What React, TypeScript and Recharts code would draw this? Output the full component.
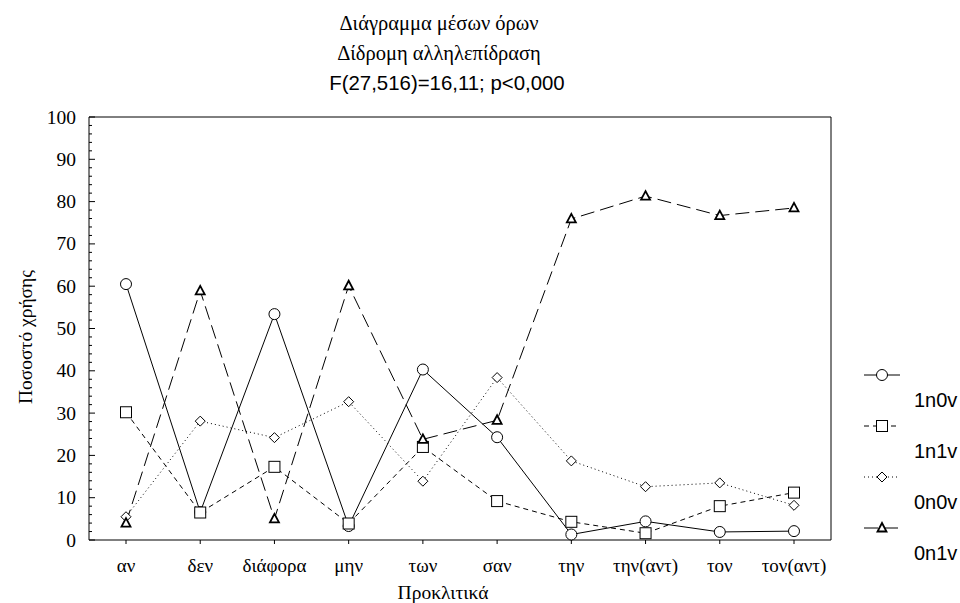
import React from 'react';
import { LineChart, Line, XAxis, YAxis, ReferenceLine } from 'recharts';

const categories = ['αν', 'δεν', 'διάφορα', 'μην', 'των', 'σαν', 'την', 'την(αντ)', 'τον', 'τον(αντ)'];
const s1n0v = [60.5, 6.6, 53.4, 3.3, 40.3, 24.3, 1.3, 4.4, 1.9, 2.1];
const s1n1v = [30.2, 6.5, 17.3, 3.9, 22.0, 9.2, 4.3, 1.6, 8.0, 11.2];
const s0n0v = [5.5, 28.1, 24.2, 32.7, 13.9, 38.4, 18.7, 12.6, 13.5, 8.2];
const s0n1v = [4.0, 58.9, 5.0, 60.1, 23.8, 28.3, 75.9, 81.3, 76.7, 78.5];
const yTicks = [0, 2, 4, 6, 8, 10, 12, 14, 16, 18, 20, 22, 24, 26, 28, 30, 32, 34, 36, 38, 40, 42, 44, 46, 48, 50, 52, 54, 56, 58, 60, 62, 64, 66, 68, 70, 72, 74, 76, 78, 80, 82, 84, 86, 88, 90, 92, 94, 96, 98, 100];
const titleLines = ['Διάγραμμα μέσων όρων', 'Δίδρομη αλληλεπίδραση', 'F(27,516)=16,11; p<0,000'];
const xTitle = 'Προκλιτικά';
const yTitle = 'Ποσοστό χρήσης';

const seriesDefs = [
  { key: '1n0v', values: s1n0v, shape: 'circle', dash: undefined as string | undefined },
  { key: '1n1v', values: s1n1v, shape: 'square', dash: '5 4' },
  { key: '0n0v', values: s0n0v, shape: 'diamond', dash: '1 3' },
  { key: '0n1v', values: s0n1v, shape: 'triangle', dash: '14 6' },
];

const data = categories.map((c, i) => {
  const row: any = { cat: c };
  seriesDefs.forEach((s) => { row[s.key] = s.values[i]; });
  return row;
});

const SERIF = 'Liberation Serif, DejaVu Serif, serif';
const SANS = 'Liberation Sans';

function Marker({ shape, cx, cy }: { shape: string; cx: number; cy: number }) {
  if (cx == null || cy == null) return null;
  if (shape === 'circle') return <circle cx={cx} cy={cy} r={5.5} fill="#fff" stroke="#000" strokeWidth={1} />;
  if (shape === 'square') return <rect x={cx - 5.5} y={cy - 5.5} width={11} height={11} fill="#fff" stroke="#000" strokeWidth={1} />;
  if (shape === 'diamond') return <polygon points={`${cx},${cy - 5} ${cx + 5},${cy} ${cx},${cy + 5} ${cx - 5},${cy}`} fill="#fff" stroke="#000" strokeWidth={1} />;
  return <polygon points={`${cx},${cy - 5} ${cx + 4.5},${cy + 3.5} ${cx - 4.5},${cy + 3.5}`} fill="#fff" stroke="#000" strokeWidth={1.8} />;
}

const makeDot = (shape: string) => (props: any) => (
  <Marker key={`${shape}-${props.index}`} shape={shape} cx={props.cx} cy={props.cy} />
);

const LeftTick = (props: any) => {
  const { x, y, payload } = props;
  const v = payload.value;
  const major = v % 10 === 0;
  const ax = x + 13;
  return (
    <g>
      <line x1={ax} y1={y} x2={ax + (major ? 6 : 3)} y2={y} stroke="#000" strokeWidth={1} />
      {major && (
        <text x={x} y={y} textAnchor="end" dominantBaseline="central" fontFamily={SERIF} fontSize={19.5} fill="#000">{v}</text>
      )}
    </g>
  );
};

const RightTick = (props: any) => {
  const { x, y, payload } = props;
  const major = payload.value % 10 === 0;
  return <line x1={x} y1={y} x2={x - (major ? 6 : 3)} y2={y} stroke="#000" strokeWidth={1} />;
};

const BottomTick = (props: any) => {
  const { x, payload } = props;
  return (
    <text x={x} y={565} textAnchor="middle" dominantBaseline="central" fontFamily={SERIF} fontSize={19} fill="#000">{payload.value}</text>
  );
};

function LegendIcon({ shape, dash }: { shape: string; dash?: string }) {
  return (
    <svg width={40} height={14} style={{ display: 'block' }}>
      <line x1={2} y1={7} x2={38} y2={7} stroke="#000" strokeWidth={1} strokeDasharray={dash} />
      <Marker shape={shape} cx={20} cy={7} />
    </svg>
  );
}

export default function App() {
  return (
    <div style={{ position: 'absolute', left: 0, top: 0, width: 960, height: 603, background: '#fff' }}>
      <LineChart width={960} height={603} data={data} margin={{ top: 117, right: 128, bottom: 33, left: 20 }}>
        <XAxis
          dataKey="cat"
          height={30}
          padding={{ left: 37, right: 37 }}
          axisLine={{ stroke: '#000' }}
          tickLine={{ stroke: '#000' }}
          tickSize={4}
          tickMargin={18}
          interval={0}
          tick={<BottomTick />}
        />
        <YAxis
          yAxisId="left"
          domain={[0, 100]}
          ticks={yTicks}
          interval={0}
          width={69}
          axisLine={{ stroke: '#000' }}
          tickLine={false}
          tickSize={0}
          tickMargin={13}
          tick={<LeftTick />}
        />
        <YAxis
          yAxisId="right"
          orientation="right"
          domain={[0, 100]}
          ticks={yTicks}
          interval={0}
          width={1}
          axisLine={{ stroke: '#000' }}
          tickLine={false}
          tickSize={0}
          tickMargin={0}
          tick={<RightTick />}
        />
        <ReferenceLine yAxisId="left" y={100} stroke="#000" strokeWidth={1} />
        {seriesDefs.map((s) => (
          <Line
            key={s.key}
            yAxisId="left"
            dataKey={s.key}
            type="linear"
            stroke="#000"
            strokeWidth={1}
            strokeDasharray={s.dash}
            dot={makeDot(s.shape)}
            activeDot={false}
            isAnimationActive={false}
          />
        ))}
      </LineChart>
      <svg width={960} height={603} style={{ position: 'absolute', left: 0, top: 0, pointerEvents: 'none' }}>
        <text x={439} y={23} textAnchor="middle" dominantBaseline="central" fontFamily={SERIF} fontSize={20.5} fill="#000">{titleLines[0]}</text>
        <text x={439} y={53} textAnchor="middle" dominantBaseline="central" fontFamily={SERIF} fontSize={20.5} fill="#000">{titleLines[1]}</text>
        <text x={447} y={83} textAnchor="middle" dominantBaseline="central" fontFamily={SANS} fontSize={20.4} fill="#000">{titleLines[2]}</text>
        <text x={443} y={592} textAnchor="middle" dominantBaseline="central" fontFamily={SERIF} fontSize={19.5} fill="#000">{xTitle}</text>
        <text x={25} y={337} textAnchor="middle" dominantBaseline="central" fontFamily={SERIF} fontSize={19.5} fill="#000" transform="rotate(-90 25 337)">{yTitle}</text>
      </svg>
      <div style={{ position: 'absolute', left: 862, top: 368 }}>
        {seriesDefs.map((s) => (
          <div key={s.key} style={{ height: 51, position: 'relative' }}>
            <LegendIcon shape={s.shape} dash={s.dash} />
            <div style={{ position: 'absolute', left: 52, top: 20, fontFamily: SANS, fontSize: 20, color: '#000', whiteSpace: 'nowrap', lineHeight: '24px' }}>{s.key}</div>
          </div>
        ))}
      </div>
    </div>
  );
}
